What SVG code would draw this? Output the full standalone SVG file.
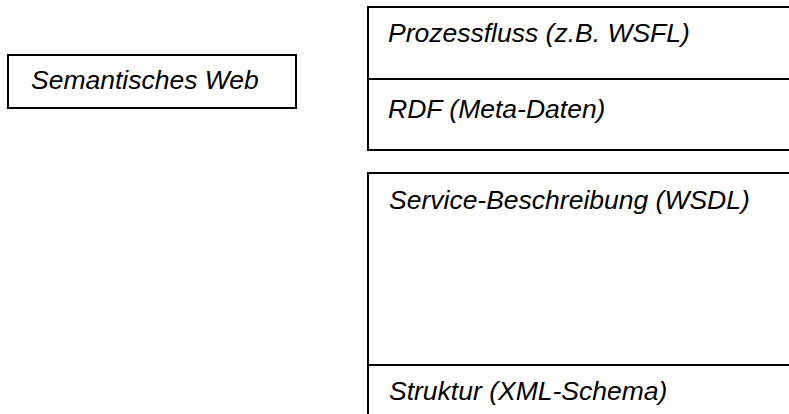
<svg xmlns="http://www.w3.org/2000/svg" width="789" height="414" viewBox="0 0 789 414">
  <style>
    .box { fill: #ffffff; stroke: #000000; stroke-width: 2; }
    .lbl { font-family: "Liberation Sans", Arial, sans-serif; font-style: italic; font-size: 26.5px; fill: #000000; }
  </style>
  <rect x="0" y="0" width="789" height="414" fill="#ffffff"/>

  <!-- left: semantic web -->
  <g id="semantisches-web">
    <rect class="box" x="8" y="55" width="288" height="53"/>
    <text class="lbl" x="31" y="89">Semantisches Web</text>
  </g>

  <!-- upper stack: process flow over RDF -->
  <g id="prozessfluss">
    <rect class="box" x="368" y="7" width="430" height="72"/>
    <text class="lbl" x="388" y="42">Prozessfluss (z.B. WSFL)</text>
  </g>
  <g id="rdf">
    <rect class="box" x="368" y="79" width="430" height="71"/>
    <text class="lbl" x="388" y="118">RDF (Meta-Daten)</text>
  </g>

  <!-- lower stack: service description over structure -->
  <g id="service-beschreibung">
    <rect class="box" x="368" y="173" width="430" height="192"/>
    <text class="lbl" x="389" y="209">Service-Beschreibung (WSDL)</text>
  </g>
  <g id="struktur">
    <rect class="box" x="368" y="365" width="430" height="70"/>
    <text class="lbl" x="389" y="400">Struktur (XML-Schema)</text>
  </g>

  <g id="connectors"></g>
</svg>
